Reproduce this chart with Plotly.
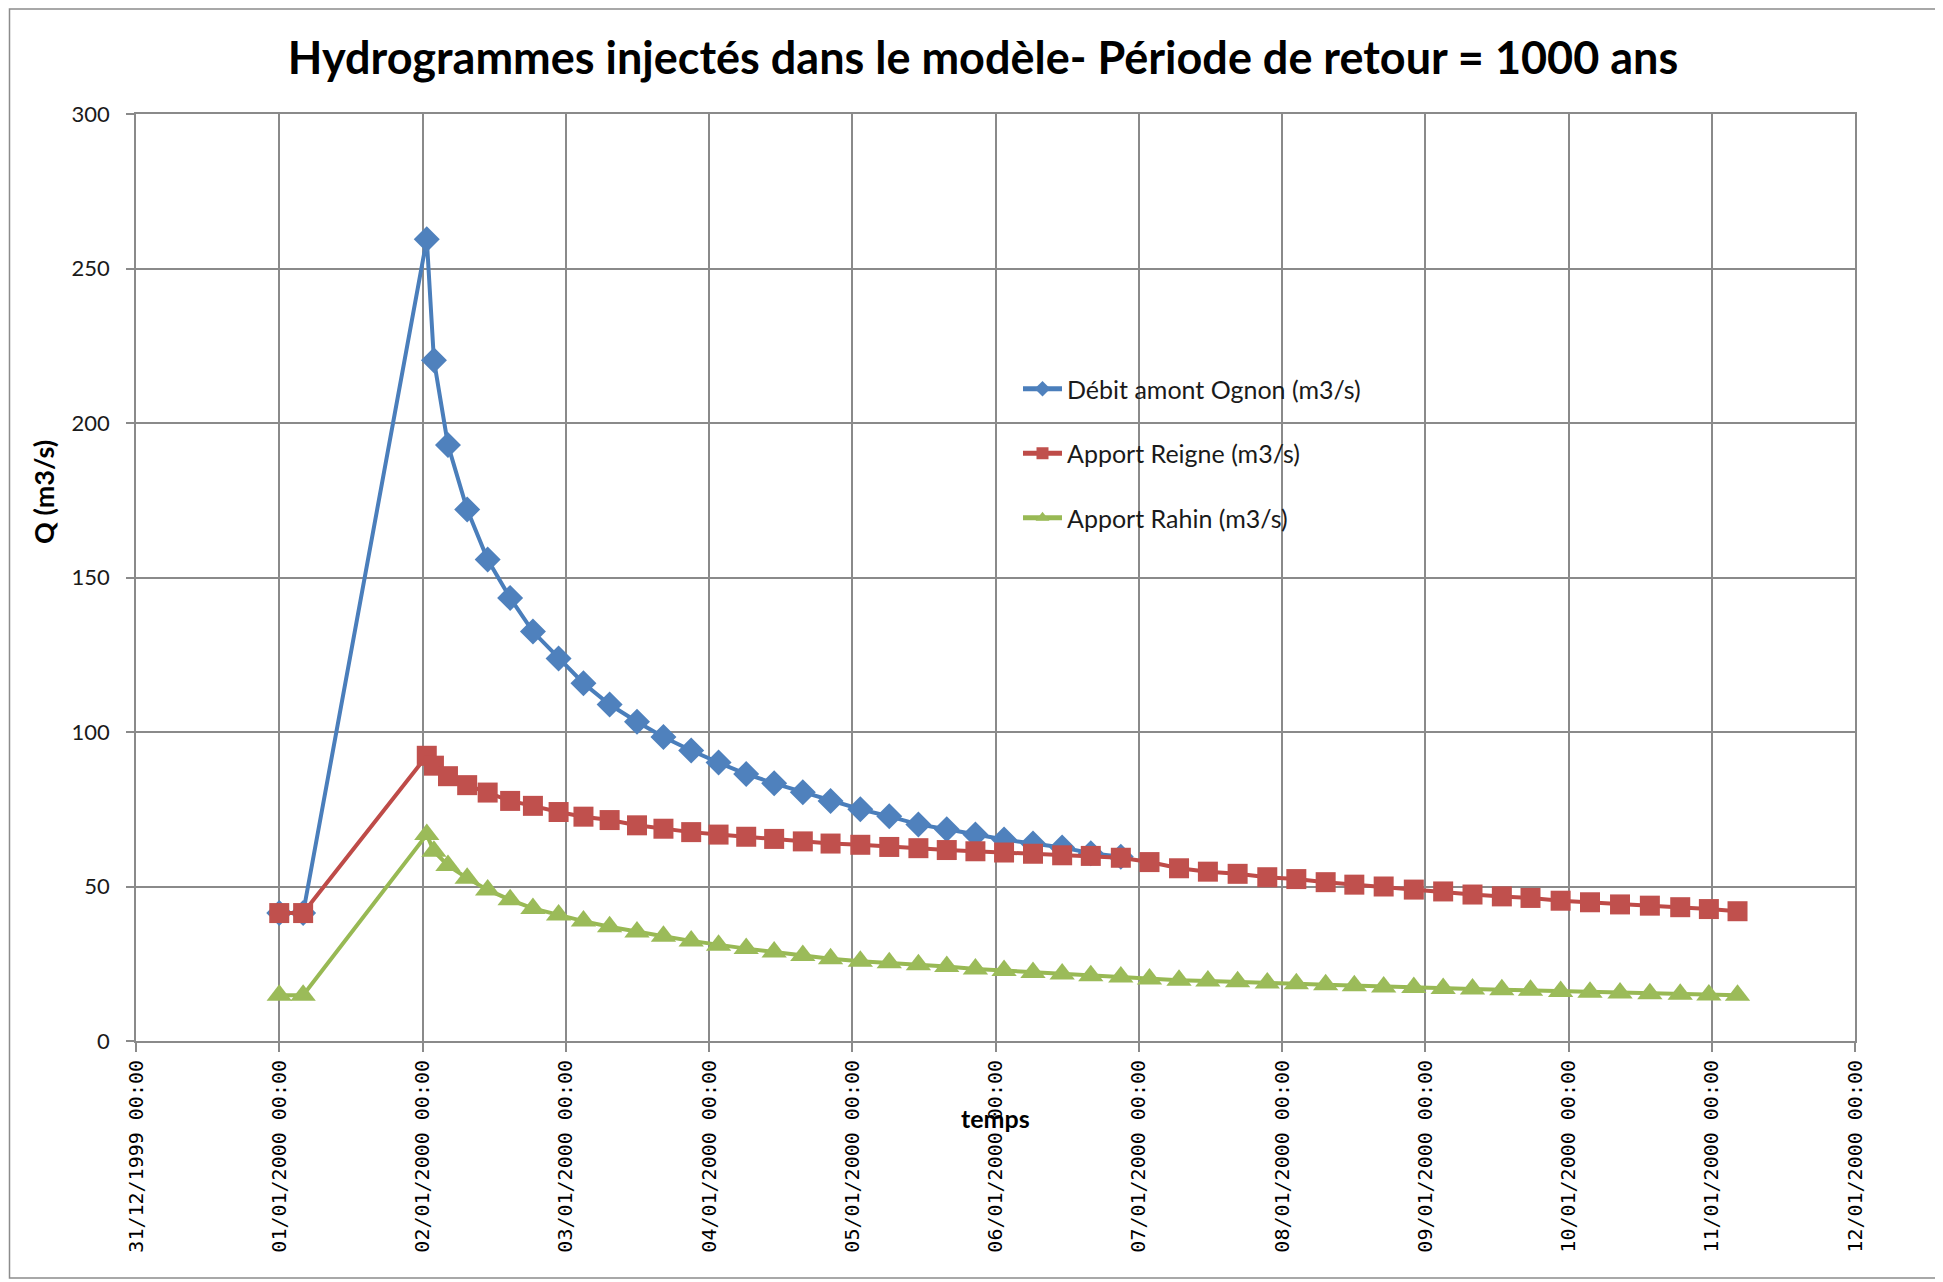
import plotly.graph_objects as go

# ---- data ----
times = [
    "2000-01-01 00:00", "2000-01-01 04:00",
    "2000-01-02 00:43", "2000-01-02 01:55", "2000-01-02 04:16", "2000-01-02 07:29",
    "2000-01-02 10:55", "2000-01-02 14:41", "2000-01-02 18:30", "2000-01-02 22:48",
    "2000-01-03 02:58", "2000-01-03 07:21", "2000-01-03 11:56", "2000-01-03 16:22",
    "2000-01-03 21:01", "2000-01-04 01:36", "2000-01-04 06:14", "2000-01-04 10:55",
    "2000-01-04 15:43", "2000-01-04 20:22", "2000-01-05 01:21", "2000-01-05 06:12",
    "2000-01-05 11:05", "2000-01-05 15:50", "2000-01-05 20:38", "2000-01-06 01:26",
    "2000-01-06 06:17", "2000-01-06 11:10", "2000-01-06 15:58", "2000-01-06 21:00",
    "2000-01-07 01:48", "2000-01-07 06:45", "2000-01-07 11:35", "2000-01-07 16:34",
    "2000-01-07 21:32", "2000-01-08 02:24", "2000-01-08 07:19", "2000-01-08 12:07",
    "2000-01-08 17:02", "2000-01-08 22:05", "2000-01-09 03:00", "2000-01-09 07:55",
    "2000-01-09 12:50", "2000-01-09 17:38", "2000-01-09 22:41", "2000-01-10 03:36",
    "2000-01-10 08:38", "2000-01-10 13:38", "2000-01-10 18:43", "2000-01-10 23:31",
    "2000-01-11 04:19",
]

debit_ognon = [
    41.4, 41.4,
    259.5, 220.3, 192.9, 172.0, 155.8, 143.4, 132.5, 123.8,
    115.8, 108.9, 103.3, 98.4, 94.0, 90.1, 86.4, 83.4,
    80.5, 77.7, 75.0, 72.7, 70.1, 68.5, 66.8, 65.2,
    63.9, 62.6, 60.8, 59.6,
]

apport_reigne = [
    41.4, 41.4,
    92.3, 89.1, 85.7, 82.8, 80.4, 77.7, 76.1, 74.1,
    72.6, 71.5, 69.8, 68.7, 67.6, 66.8, 66.1, 65.4,
    64.6, 63.9, 63.5, 62.8, 62.4, 61.8, 61.4, 61.0,
    60.6, 60.1, 59.9, 59.3, 57.9, 55.9, 54.8, 54.1,
    53.0, 52.4, 51.4, 50.6, 50.0, 49.0, 48.4, 47.4,
    46.8, 46.3, 45.4, 44.9, 44.2, 43.8, 43.3, 42.7,
    42.0,
]

apport_rahin = [
    14.8, 14.8,
    66.8, 61.4, 56.8, 52.7, 48.9, 45.7, 42.9, 40.8,
    38.8, 37.0, 35.3, 33.9, 32.4, 31.0, 29.9, 28.8,
    27.7, 26.6, 25.8, 25.3, 24.7, 24.1, 23.3, 22.8,
    22.2, 21.7, 21.1, 20.7, 20.1, 19.7, 19.4, 19.2,
    18.8, 18.5, 18.2, 17.9, 17.5, 17.3, 17.0, 16.8,
    16.6, 16.4, 16.0, 15.8, 15.5, 15.3, 15.1, 14.9,
    14.8,
]

series_names = ["Débit amont Ognon (m3/s)", "Apport Reigne (m3/s)", "Apport Rahin (m3/s)"]
title_text = "Hydrogrammes injectés dans le modèle- Période de retour = 1000 ans"
y_title = "Q (m3/s)"
x_title = "temps"

# ---- figure geometry (page body has an 8px margin) ----
OFF = 8
W, H = 1943 - OFF, 1282 - OFF
# plot area in page pixels
L, R, T, B = 136, 1855, 114, 1041
Lf, Rf, Tf, Bf = L - OFF, R - OFF, T - OFF, B - OFF

def px_x(p):  # page pixel -> paper x
    return (p - OFF - Lf) / (Rf - Lf)

def px_y(p):  # page pixel -> paper y
    return (Bf - (p - OFF)) / (Bf - Tf)

GRID = "#8a8a8a"
TXT = "#1a1a1a"

fig = go.Figure()
fig.add_trace(go.Scatter(
    x=times[:len(debit_ognon)], y=debit_ognon, name=series_names[0], mode="lines+markers",
    line=dict(color="#4A7EBB", width=4), legendgroup="a",
    marker=dict(symbol="diamond", size=20, color="#4F81BD"),
))
fig.add_trace(go.Scatter(
    x=times, y=apport_reigne, name=series_names[1], mode="lines+markers",
    line=dict(color="#BE4B48", width=4), legendgroup="b",
    marker=dict(symbol="square", size=20, color="#C0504D"),
))
fig.add_trace(go.Scatter(
    x=times, y=apport_rahin, name=series_names[2], mode="lines+markers",
    line=dict(color="#98B954", width=4), legendgroup="c",
    marker=dict(symbol="triangle-up", size=22, color="#9BBB59"),
))

fig.update_layout(
    width=W, height=H,
    margin=dict(l=Lf, r=W - Rf, t=Tf, b=H - Bf, pad=0),
    paper_bgcolor="white", plot_bgcolor="white",
    font=dict(family="Lato, 'Open Sans', sans-serif", color=TXT),
    title=dict(text="<b>" + title_text + "</b>", x=(983 - OFF) / W, xanchor="center",
               y=1 - (58 - OFF) / H, yanchor="middle", yref="container",
               font=dict(size=45, color="#000000", family="Lato, sans-serif")),
    showlegend=True,
    legend=dict(x=px_x(1018), y=px_y(366), xanchor="left", yanchor="top",
                bgcolor="rgba(0,0,0,0)", font=dict(size=25, color=TXT),
                tracegroupgap=29, itemsizing="constant", itemwidth=39),
    xaxis=dict(
        type="date", range=["1999-12-31 00:00", "2000-01-12 00:00"],
        tick0="1999-12-31", dtick=86400000, tickformat="%d/%m/%Y %H:%M",
        tickangle=-90, tickfont=dict(family="DejaVu Sans Mono", size=20, color="#000000"),
        showgrid=True, gridcolor=GRID, gridwidth=1.5,
        showline=True, linecolor=GRID, linewidth=2, mirror=True,
        ticks="outside", ticklen=9, tickcolor=GRID, tickwidth=1.5,
        zeroline=False,
    ),
    yaxis=dict(
        range=[0, 300], dtick=50, tick0=0,
        tickfont=dict(size=22, color=TXT),
        showgrid=True, gridcolor=GRID, gridwidth=1.5,
        showline=True, linecolor=GRID, linewidth=1.5, mirror=True,
        ticks="outside", ticklen=8, tickcolor=GRID, tickwidth=1.5,
        ticklabelstandoff=12, zeroline=False,
    ),
    annotations=[
        dict(text="<b>" + y_title + "</b>", xref="paper", yref="paper",
             x=px_x(43), y=px_y(492), xanchor="center", yanchor="middle",
             textangle=-90, showarrow=False,
             font=dict(size=27, color="#000000")),
        dict(text="<b>" + x_title + "</b>", xref="paper", yref="paper",
             x=px_x(995), y=px_y(1118), xanchor="center", yanchor="middle",
             showarrow=False, font=dict(size=25, color="#000000")),
    ],
    shapes=[
        dict(type="rect", xref="paper", yref="paper",
             x0=px_x(9.5), x1=px_x(1940), y0=px_y(1278), y1=px_y(9),
             line=dict(color="#8c8c8c", width=1.5), fillcolor="rgba(0,0,0,0)",
             layer="below"),
    ],
)

fig.write_html("out.html")
